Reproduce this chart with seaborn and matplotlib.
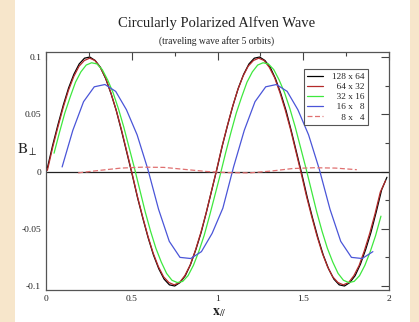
import numpy as np
import pandas as pd
import matplotlib
matplotlib.use("Agg")
import matplotlib.pyplot as plt
import seaborn as sns
from matplotlib.ticker import MultipleLocator, FuncFormatter
from matplotlib.patches import Rectangle

# ---------------- data ----------------
title = "Circularly Polarized Alfven Wave"
subtitle = "(traveling wave after 5 orbits)"
labels = ["128 x 64", "\u200764 x 32", "\u200732 x 16", "\u200716 x \u20078", "\u2007\u20078 x \u20074"]

x_128 = np.linspace(0.008, 1.988, 65)
y_128 = [0.003, 0.023, 0.041, 0.058, 0.073, 0.085, 0.094, 0.099, 0.100, 0.097, 0.091, 0.081, 0.068, 0.053, 0.035, 0.016,
         -0.003, -0.023, -0.041, -0.058, -0.073, -0.085, -0.094, -0.099, -0.100, -0.097, -0.091, -0.081, -0.068, -0.053, -0.035, -0.016,
         0.003, 0.023, 0.041, 0.058, 0.073, 0.085, 0.094, 0.099, 0.100, 0.097, 0.091, 0.081, 0.068, 0.053, 0.035, 0.016,
         -0.003, -0.023, -0.041, -0.058, -0.073, -0.085, -0.094, -0.099, -0.100, -0.097, -0.091, -0.081, -0.068, -0.053, -0.035, -0.016,
         -0.005]

x_64 = np.linspace(0.008, 1.980, 65)
y_64 = [0.001, 0.021, 0.039, 0.056, 0.071, 0.083, 0.092, 0.097, 0.099, 0.097, 0.091, 0.082, 0.069, 0.054, 0.037, 0.018,
        -0.001, -0.021, -0.039, -0.056, -0.071, -0.083, -0.092, -0.097, -0.099, -0.097, -0.091, -0.082, -0.069, -0.054, -0.037, -0.018,
        0.001, 0.021, 0.039, 0.056, 0.071, 0.083, 0.092, 0.097, 0.099, 0.097, 0.091, 0.082, 0.069, 0.054, 0.037, 0.018,
        -0.001, -0.021, -0.039, -0.056, -0.071, -0.083, -0.092, -0.097, -0.099, -0.097, -0.091, -0.082, -0.069, -0.054, -0.037, -0.018,
        -0.008]

x_32 = np.linspace(0.047, 1.953, 62)
y_32 = [0.016, 0.034, 0.051, 0.065, 0.078, 0.087, 0.093, 0.095, 0.094, 0.089, 0.080, 0.069, 0.055, 0.039, 0.021, 0.003,
        -0.016, -0.035, -0.052, -0.067, -0.079, -0.089, -0.095, -0.097, -0.096, -0.091, -0.082, -0.070, -0.056, -0.039, -0.021, -0.003,
        0.016, 0.034, 0.051, 0.065, 0.078, 0.087, 0.093, 0.095, 0.094, 0.089, 0.080, 0.069, 0.055, 0.039, 0.021, 0.003,
        -0.016, -0.035, -0.052, -0.067, -0.079, -0.089, -0.095, -0.097, -0.096, -0.091, -0.082, -0.070, -0.056, -0.039]

x_16 = np.linspace(0.094, 1.906, 30)
y_16 = [0.004, 0.036, 0.061, 0.074, 0.076, 0.070, 0.054, 0.032, 0.002, -0.033, -0.061, -0.075, -0.076, -0.070, -0.054, -0.032,
        0.004, 0.036, 0.061, 0.074, 0.076, 0.070, 0.054, 0.032, 0.002, -0.033, -0.061, -0.075, -0.076, -0.070]

x_8 = np.linspace(0.1875, 1.8125, 14)
y_8 = [-0.0012, 0.0010, 0.0030, 0.0038, 0.0036, 0.0018, 0.0000, -0.0010, -0.0012, 0.0004, 0.0026, 0.0033, 0.0030, 0.0016]

colors = ["#000000", "#b42a2a", "#3ee83e", "#4a55d8", "#e07070"]

# ---------------- style ----------------
sns.set_theme(style="white")
plt.rcParams["font.family"] = ["Liberation Serif", "DejaVu Serif"]
plt.rcParams["mathtext.fontset"] = "stix"
plt.rcParams["axes.unicode_minus"] = False

W, H = 419, 322
fig = plt.figure(figsize=(W / 100, H / 100), dpi=100)
fig.patch.set_facecolor("#f7e6cb")
fig.add_artist(Rectangle((15 / W, 0), (410 - 15) / W, 1, transform=fig.transFigure,
                         facecolor="white", edgecolor="none", zorder=-10))

ax = fig.add_axes([46 / W, 1 - 290 / H, 343 / W, 238 / H])
ax.set_facecolor("white")

ax.axhline(0, color="#222222", lw=0.9, zorder=1)

series = [(x_128, y_128), (x_64, y_64), (x_32, y_32), (x_16, y_16), (x_8, y_8)]
for (xs, ys), c, lab in zip(series, colors, labels):
    df = pd.DataFrame({"x": xs, "y": ys})
    sns.lineplot(data=df, x="x", y="y", ax=ax, color=c, lw=0.9, label=lab, sort=False, zorder=3)
ax.lines[-1].set_dashes([4, 2])
ax.legend_.remove()

ax.set_xlim(0, 2)
ax.set_ylim(-0.1035, 0.1044)
ax.set_xlabel("")
ax.set_ylabel("")
ax.xaxis.set_major_locator(MultipleLocator(0.5))
ax.xaxis.set_minor_locator(MultipleLocator(0.25))
ax.yaxis.set_major_locator(MultipleLocator(0.05))
ax.yaxis.set_minor_locator(MultipleLocator(0.025))
fmt = FuncFormatter(lambda v, p: "0" if abs(v) < 1e-9 else "%g" % v)
ax.xaxis.set_major_formatter(fmt)
ax.yaxis.set_major_formatter(fmt)
ax.tick_params(which="both", direction="in", top=True, right=True, color="#444444",
               labelsize=6.8, labelcolor="#222222", pad=3.5)
ax.tick_params(which="major", length=6, width=0.8)
ax.tick_params(which="minor", length=3, width=0.8)
for s in ax.spines.values():
    s.set_color("#555555")
    s.set_linewidth(0.9)

handles = ax.lines[1:]
leg = ax.legend(handles, labels, loc="upper right", bbox_to_anchor=((368 - 46) / 343, 1 - (69 - 52) / 238),
                borderaxespad=0, fontsize=6.7, frameon=True, fancybox=False, framealpha=1,
                edgecolor="#555555", handlelength=1.7, handletextpad=1.0, labelspacing=0.18,
                borderpad=0.35)
leg.get_frame().set_linewidth(0.8)
for t in leg.get_texts():
    t.set_color("#222222")

fig.text(217 / W, 1 - 23.5 / H, title, ha="center", va="center", fontsize=10.5, color="#222222")
fig.text(217 / W, 1 - 41.5 / H, subtitle, ha="center", va="center", fontsize=6.9, color="#222222")
fig.text(17 / W, 1 - 150 / H, r"$\mathrm{B}_{\perp}$", ha="left", va="center", fontsize=11, color="#222222")
fig.text(219 / W, 1 - 312 / H, r"$\mathbf{x}_{//}$", ha="center", va="center", fontsize=10, color="#222222")

fig.savefig("out.png", dpi=100, facecolor=fig.get_facecolor())
